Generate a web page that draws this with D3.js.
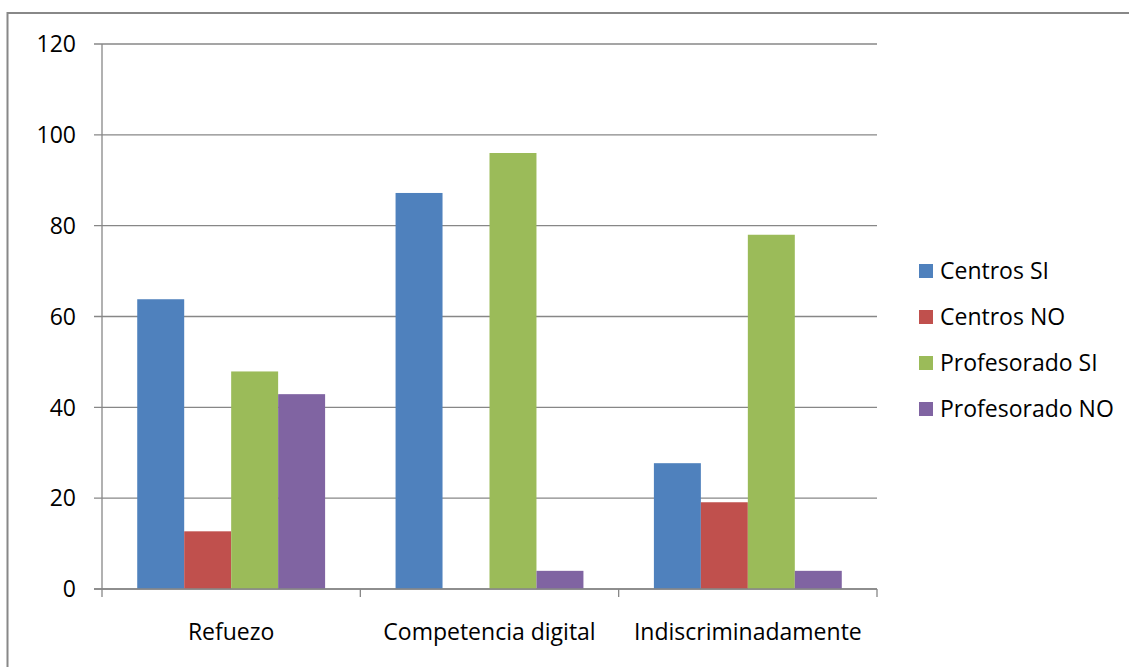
<!DOCTYPE html>
<html><head><meta charset="utf-8">
<script src="https://cdn.jsdelivr.net/npm/d3@7"></script>
<style>html,body{margin:0;padding:0;background:#fff;}svg{display:block;}</style>
</head><body>
<svg id="chart" width="1129" height="667"></svg>
<script>
const categories = ["Refuezo", "Competencia digital", "Indiscriminadamente"];
const seriesNames = ["Centros SI", "Centros NO", "Profesorado SI", "Profesorado NO"];
const centrosSI = [63.8, 87.2, 27.7];
const centrosNO = [12.7, 0, 19.1];
const profesoradoSI = [47.9, 96, 78];
const profesoradoNO = [42.9, 4, 4];
const colors = ["#4F81BD", "#C0504D", "#9BBB59", "#8064A2"];
const yTicks = [0, 20, 40, 60, 80, 100, 120];

(function () {
const seriesValues = [centrosSI, centrosNO, profesoradoSI, profesoradoNO];
const svg = d3.select("#chart");
const font = "'Open Sans', sans-serif";
const fs = 23;
const gridColor = "#878787";

// outer border
svg.append("rect").attr("x", 7.5).attr("y", 13).attr("width", 1140).attr("height", 680)
  .attr("fill", "none").attr("stroke", "#888").attr("stroke-width", 2);

const pLeft = 102, pRight = 877, pTop = 44, pBottom = 589;
const x0 = d3.scaleBand().domain(categories).range([pLeft, pRight]).paddingInner(0).paddingOuter(0);
const y = d3.scaleLinear().domain([0, 120]).range([pBottom, pTop]);
const bw = x0.bandwidth() / 5.5;
const x1 = d3.scaleBand().domain(seriesNames).range([bw * 0.75, bw * 4.75]).padding(0);

// gridlines
svg.append("g").selectAll("line").data(yTicks).join("line")
  .attr("x1", pLeft - 8).attr("x2", pRight)
  .attr("y1", d => y(d)).attr("y2", d => y(d))
  .attr("stroke", gridColor).attr("stroke-width", 1.3);

// y tick labels
svg.append("g").selectAll("text").data(yTicks).join("text")
  .attr("x", 76).attr("y", d => y(d)).attr("dy", "0.36em")
  .attr("text-anchor", "end").attr("font-family", font).attr("font-size", fs)
  .attr("fill", "#000").text(d => d);

// y axis line
svg.append("line").attr("x1", pLeft).attr("x2", pLeft).attr("y1", pTop).attr("y2", pBottom + 8)
  .attr("stroke", gridColor).attr("stroke-width", 1.3);

// category boundary ticks
const bounds = categories.map(c => x0(c)).concat([pRight]);
svg.append("g").selectAll("line").data(bounds.slice(1)).join("line")
  .attr("x1", d => d).attr("x2", d => d).attr("y1", pBottom).attr("y2", pBottom + 8)
  .attr("stroke", gridColor).attr("stroke-width", 1.3);

// bars
const groups = svg.append("g").selectAll("g").data(categories).join("g")
  .attr("transform", c => `translate(${x0(c)},0)`);
groups.selectAll("rect").data((c, i) => seriesNames.map((s, j) => ({s, j, v: seriesValues[j][i]})))
  .join("rect")
  .attr("x", d => x1(d.s)).attr("width", x1.bandwidth())
  .attr("y", d => y(d.v)).attr("height", d => y(0) - y(d.v))
  .attr("fill", d => colors[d.j])
  .attr("display", d => d.v > 0 ? null : "none");

// zero line on top
svg.append("line").attr("x1", pLeft - 8).attr("x2", pRight).attr("y1", y(0)).attr("y2", y(0))
  .attr("stroke", gridColor).attr("stroke-width", 1.3);

// category labels
svg.append("g").selectAll("text").data(categories).join("text")
  .attr("x", c => x0(c) + x0.bandwidth() / 2).attr("y", 632).attr("dy", "0.36em")
  .attr("text-anchor", "middle").attr("font-family", font).attr("font-size", fs)
  .attr("fill", "#000").text(c => c);

// legend
const legY = d3.scalePoint().domain(seriesNames).range([271, 409]);
const leg = svg.append("g").selectAll("g").data(seriesNames).join("g")
  .attr("transform", s => `translate(919,${legY(s)})`);
leg.append("rect").attr("x", 0).attr("y", -7).attr("width", 14).attr("height", 14)
  .attr("fill", (s, i) => colors[i]);
leg.append("text").attr("x", 21).attr("y", 0).attr("dy", "0.36em")
  .attr("font-family", font).attr("font-size", fs).attr("fill", "#000").text(s => s);
})();
</script>
</body></html>
